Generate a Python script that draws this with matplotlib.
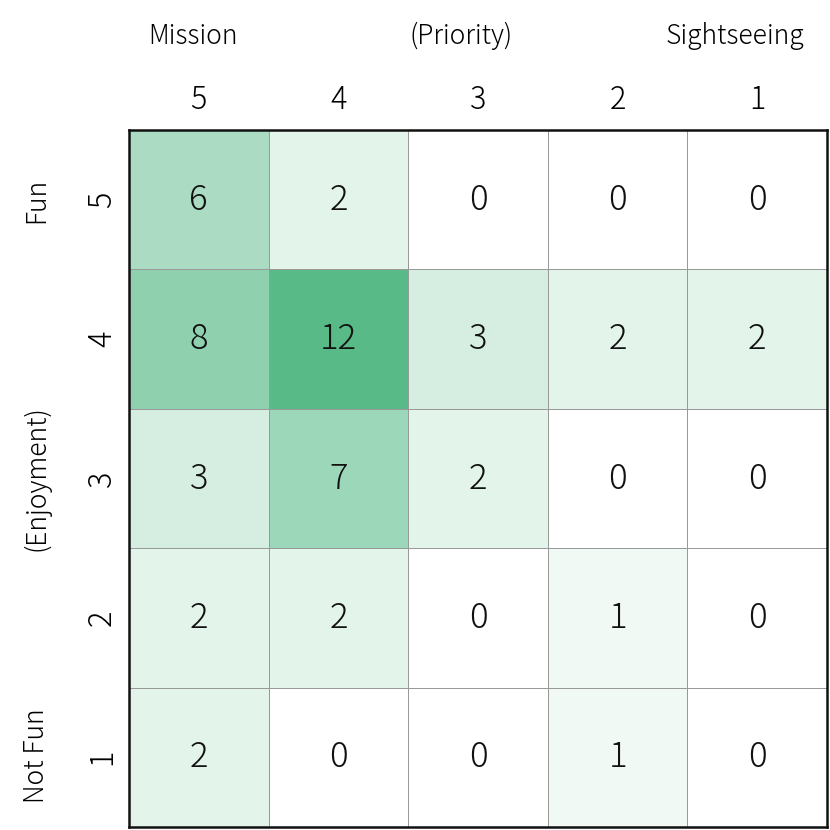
import numpy as np
import matplotlib.pyplot as plt
from matplotlib.colors import LinearSegmentedColormap

plt.rcParams['font.family'] = ['Noto Sans CJK JP', 'DejaVu Sans']
plt.rcParams['font.weight'] = 'light'

# Priority along columns (5 -> 1), enjoyment along rows (5 at top -> 1)
priority_labels = ['5', '4', '3', '2', '1']
enjoy_labels = ['5', '4', '3', '2', '1']
counts = np.array([
    [6, 2, 0, 0, 0],
    [8, 12, 3, 2, 2],
    [3, 7, 2, 0, 0],
    [2, 2, 0, 1, 0],
    [2, 0, 0, 1, 0],
])

top_titles = ['Mission', '(Priority)', 'Sightseeing']
side_titles = ['Fun', '(Enjoyment)', 'Not Fun']

cmap = LinearSegmentedColormap.from_list('wg', ['#ffffff', '#57ba87'])

fig = plt.figure(figsize=(8.3, 8.3), dpi=100)
ax = fig.add_axes([129 / 830, 3 / 830, 698 / 830, 697 / 830])

ax.pcolormesh(counts, cmap=cmap, vmin=0, vmax=12,
              edgecolors='#999999', linewidth=0.6)
ax.set_xlim(0, 5)
ax.set_ylim(5, 0)
for s in ax.spines.values():
    s.set_linewidth(1.8)
    s.set_color('#111111')

for i in range(5):
    for j in range(5):
        ax.text(j + 0.5, i + 0.5, str(counts[i, j]), ha='center', va='center',
                fontsize=25, color='#111111')

ax.xaxis.tick_top()
ax.set_xticks(np.arange(5) + 0.5)
ax.set_xticklabels(priority_labels, fontsize=22)
ax.set_yticks(np.arange(5) + 0.5)
ax.set_yticklabels(enjoy_labels, fontsize=22, rotation=90, va='center')
ax.tick_params(axis='x', length=0, pad=10)
ax.tick_params(axis='y', length=0, pad=8)

# group titles
fs = 19
fig.text(193 / 830, 1 - 36 / 830, top_titles[0], ha='center', va='center', fontsize=fs)
fig.text(461 / 830, 1 - 36 / 830, top_titles[1], ha='center', va='center', fontsize=fs)
fig.text(735 / 830, 1 - 36 / 830, top_titles[2], ha='center', va='center', fontsize=fs)
fig.text(36 / 830, 1 - 200 / 830, side_titles[0], ha='center', va='center', fontsize=fs, rotation=90)
fig.text(36 / 830, 1 - 478 / 830, side_titles[1], ha='center', va='center', fontsize=fs, rotation=90)
fig.text(36 / 830, 1 - 756 / 830, side_titles[2], ha='center', va='center', fontsize=fs, rotation=90)

fig.savefig('out.png', dpi=100)
